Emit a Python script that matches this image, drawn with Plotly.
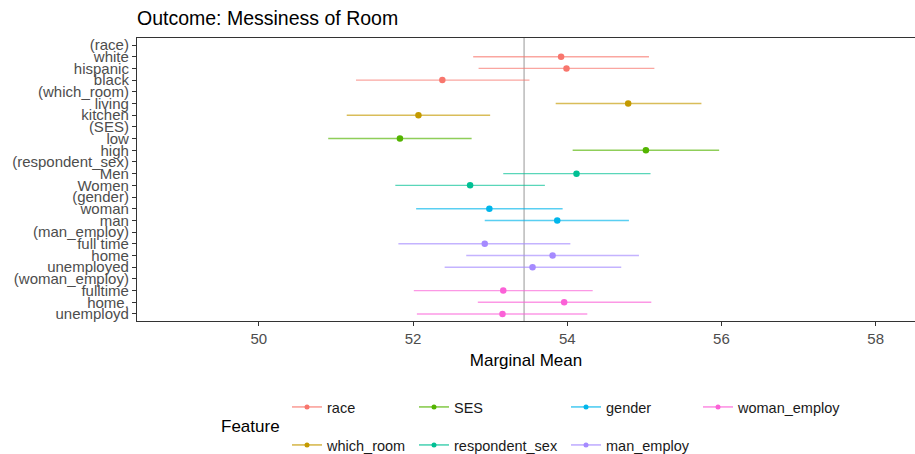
import plotly.graph_objects as go

# ---------------- data ----------------
features = ["race", "which_room", "SES", "respondent_sex", "gender", "man_employ", "woman_employ"]
colors = ["#F8766D", "#C49A00", "#53B400", "#00C094", "#00B6EB", "#A58AFF", "#FB61D7"]

axis_labels = ["(race)", "white", "hispanic", "black",
               "(which_room)", "living", "kitchen",
               "(SES)", "low", "high",
               "(respondent_sex)", "Men", "Women",
               "(gender)", "woman", "man",
               "(man_employ)", "full time", "home", "unemployed",
               "(woman_employ)", "fulltime", "home.", "unemployd"]

levels = ["white", "hispanic", "black", "living", "kitchen", "low", "high",
          "Men", "Women", "woman", "man", "full time", "home", "unemployed",
          "fulltime", "home.", "unemployd"]
level_feature = ["race", "race", "race", "which_room", "which_room", "SES", "SES",
                 "respondent_sex", "respondent_sex", "gender", "gender",
                 "man_employ", "man_employ", "man_employ",
                 "woman_employ", "woman_employ", "woman_employ"]
estimate = [53.92, 53.99, 52.38, 54.79, 52.07, 51.83, 55.02,
            54.12, 52.74, 52.99, 53.87, 52.93, 53.81, 53.55,
            53.17, 53.96, 53.16]
lower = [52.78, 52.85, 51.26, 53.85, 51.14, 50.90, 54.07,
         53.17, 51.77, 52.04, 52.93, 51.81, 52.69, 52.41,
         52.01, 52.84, 52.05]
upper = [55.06, 55.13, 53.51, 55.74, 53.00, 52.76, 55.97,
         55.08, 53.71, 53.94, 54.80, 54.04, 54.93, 54.70,
         54.33, 55.09, 54.26]
grand_mean = 53.44

x_ticks = [50, 52, 54, 56, 58]


def rgba(hex_color, a):
    h = hex_color.lstrip("#")
    r, g, b = int(h[0:2], 16), int(h[2:4], 16), int(h[4:6], 16)
    return f"rgba({r},{g},{b},{a})"


# ---------------- layout geometry ----------------
W, H = 915, 454
ML, MR, MT, MB = 137, 0, 38, 133

FONT = "Liberation Sans, Arial, sans-serif"

fig = go.Figure()

# grand mean reference line
fig.add_shape(type="line", xref="x", yref="paper", x0=grand_mean, x1=grand_mean,
              y0=0, y1=1, line=dict(color="#A8A8A8", width=1.2), layer="below")

# estimates with intervals
for f, c in zip(features, colors):
    idx = [i for i, lf in enumerate(level_feature) if lf == f]
    xs = [estimate[i] for i in idx]
    ys = [levels[i] for i in idx]
    plus = [upper[i] - estimate[i] for i in idx]
    minus = [estimate[i] - lower[i] for i in idx]
    fig.add_trace(go.Scatter(
        x=xs, y=ys, mode="markers",
        marker=dict(color=c, size=6.5),
        error_x=dict(type="data", array=plus, arrayminus=minus, symmetric=False,
                     color=rgba(c, 0.65), thickness=1.4, width=0),
        showlegend=False, hoverinfo="x+y",
    ))

# legend entries (column-major layout like ggplot)
text_starts = [328, 328, 455, 455, 607, 607, 739]
row_ys = [407, 445, 407, 445, 407, 445, 407]
legend_names = ["legend", "legend2", "legend3", "legend4", "legend5", "legend6", "legend7"]
for f, c, ln in zip(features, colors, legend_names):
    fig.add_trace(go.Scatter(
        x=[None], y=[None], mode="lines+markers", name=f,
        line=dict(color=rgba(c, 0.6), width=1.8),
        marker=dict(color=c, size=5),
        legend=ln, showlegend=True,
    ))

legend_layout = {}
for ln, tx, ry in zip(legend_names, text_starts, row_ys):
    legend_layout[ln] = dict(
        x=(tx - 41) / W, y=1 - ry / H, xanchor="left", yanchor="middle",
        xref="container", yref="container",
        bgcolor="rgba(0,0,0,0)", borderwidth=0,
        font=dict(family=FONT, size=14.5, color="#1A1A1A"),
        itemwidth=30, tracegroupgap=0,
    )

fig.add_annotation(text="Feature", xref="paper", yref="paper",
                   x=(219 - ML) / (W - ML - MR), y=(H - MB - 426) / (H - MT - MB),
                   xanchor="left", yanchor="middle",
                   showarrow=False, font=dict(family=FONT, size=17, color="#000000"))

fig.update_layout(
    width=W, height=H,
    margin=dict(l=ML, r=MR, t=MT, b=MB, pad=0, autoexpand=False),
    paper_bgcolor="white", plot_bgcolor="white",
    title=dict(text="Outcome: Messiness of Room", x=0, xref="paper", xanchor="left",
               y=1 - 18 / H, yref="container", yanchor="middle",
               font=dict(family=FONT, size=19.5, color="#000000")),
    xaxis=dict(range=[48.42, 58.51], tickvals=x_ticks, ticktext=[str(t) for t in x_ticks],
               automargin=False,
               showgrid=False, zeroline=False, showline=True, linecolor="#333333", linewidth=1.2,
               mirror=True, ticks="outside", ticklen=4, tickcolor="#333333", tickwidth=1.2,
               tickfont=dict(family=FONT, size=15, color="#4D4D4D"),
               title=dict(text="Marginal Mean", standoff=8,
                          font=dict(family=FONT, size=17, color="#000000"))),
    yaxis=dict(type="category", categoryorder="array", categoryarray=axis_labels,
               tickvals=axis_labels, ticktext=axis_labels,
               range=[len(axis_labels) - 1 + 0.6, -0.6],
               automargin=False,
               showgrid=False, zeroline=False, showline=True, linecolor="#333333", linewidth=1.2,
               ticks="outside", ticklen=4, tickcolor="#333333", tickwidth=1.2,
               tickfont=dict(family=FONT, size=15, color="#4D4D4D")),
    showlegend=True,
    **legend_layout,
)

fig.write_html("out.html")
